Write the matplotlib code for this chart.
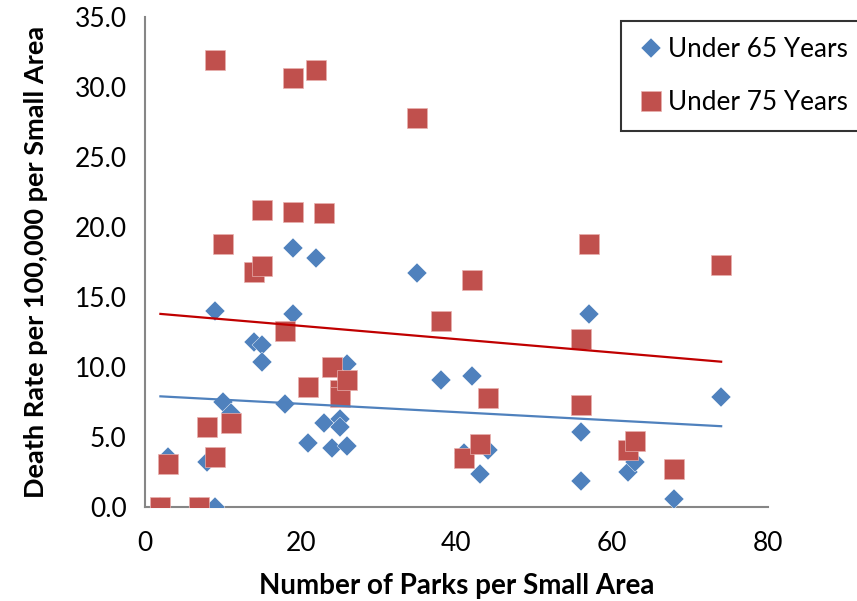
import numpy as np
import matplotlib
matplotlib.use("Agg")
import matplotlib.pyplot as plt

plt.rcParams["font.family"] = ["Lato", "DejaVu Sans"]

# parks per small area (x) and death rate per 100,000 (y)
parks_u65 = [2, 3, 7, 8, 9, 9, 10, 11, 14, 15, 15, 18, 19, 19, 21, 22, 23, 24, 25, 25,
             26, 26, 35, 38, 41, 42, 43, 44, 56, 56, 57, 62, 63, 68, 74]
rate_u65 = [0.0, 3.6, 0.0, 3.2, 14.0, 0.0, 7.5, 6.7, 11.8, 11.6, 10.4, 7.4, 18.5, 13.8, 4.6, 17.8, 6.0, 4.2, 6.3, 5.7,
            10.2, 4.4, 16.7, 9.1, 3.9, 9.4, 2.4, 4.1, 5.4, 1.9, 13.8, 2.5, 3.2, 0.6, 7.9]

parks_u75 = [2, 3, 7, 8, 9, 9, 10, 11, 14, 15, 15, 18, 19, 19, 21, 22, 23, 24, 25, 25,
             26, 35, 38, 41, 42, 43, 44, 56, 56, 57, 62, 63, 68, 74]
rate_u75 = [0.0, 3.1, 0.0, 5.7, 31.9, 3.6, 18.8, 6.0, 16.8, 21.2, 17.2, 12.6, 30.6, 21.1, 8.6, 31.2, 21.0, 10.0, 8.4, 7.9,
            9.1, 27.8, 13.3, 3.5, 16.2, 4.5, 7.8, 12.0, 7.3, 18.8, 4.1, 4.7, 2.7, 17.3]

BLUE = "#4F81BD"
RED = "#C0504D"

fig = plt.figure(figsize=(8.57, 6.01), dpi=100)
ax = fig.add_axes([0.169, 0.156, 0.727, 0.816])

ax.plot(parks_u65, rate_u65, ls="none", marker="D", ms=10.3, color=BLUE,
        mec="white", mew=0.3, label="Under 65 Years", zorder=3)
ax.plot(parks_u75, rate_u75, ls="none", marker="s", ms=14.5, color=RED,
        mec="#E8B0AE", mew=0.5, label="Under 75 Years", zorder=4)

# linear trend lines
for xs, ys, c in [(parks_u65, rate_u65, BLUE), (parks_u75, rate_u75, "#C00000")]:
    xs = np.array(xs, dtype=float)
    k, b = np.polyfit(xs, ys, 1)
    xx = np.array([xs.min(), xs.max()])
    ax.plot(xx, k * xx + b, color=c, lw=1.6, zorder=5)

ax.set_xlim(0, 80)
ax.set_ylim(0, 35)
ax.set_xticks([0, 20, 40, 60, 80])
ax.set_yticks(np.arange(0, 36, 5))
ax.set_yticklabels([f"{v:.1f}" for v in np.arange(0, 36, 5)])
ax.tick_params(length=0, labelsize=19, pad=13)
ax.tick_params(axis="x", pad=17)
for s in ["top", "right"]:
    ax.spines[s].set_visible(False)
for s in ["left", "bottom"]:
    ax.spines[s].set_color("#868686")
    ax.spines[s].set_linewidth(1.5)

ax.set_xlabel("Number of Parks per Small Area", fontsize=20, fontweight="bold", labelpad=12)
ax.set_ylabel("Death Rate per 100,000 per Small Area", fontsize=19.5, fontweight="bold", labelpad=19)

leg = fig.legend(loc="upper left", bbox_to_anchor=(0.7246, 0.965), borderaxespad=0,
                 fontsize=18.8, frameon=True, fancybox=False, handletextpad=0.1,
                 handlelength=1.1, labelspacing=1.1, borderpad=0.6, markerscale=1.0)
leg.get_frame().set_edgecolor("black")
leg.get_frame().set_linewidth(1.5)

fig.savefig("out.png", dpi=100)
